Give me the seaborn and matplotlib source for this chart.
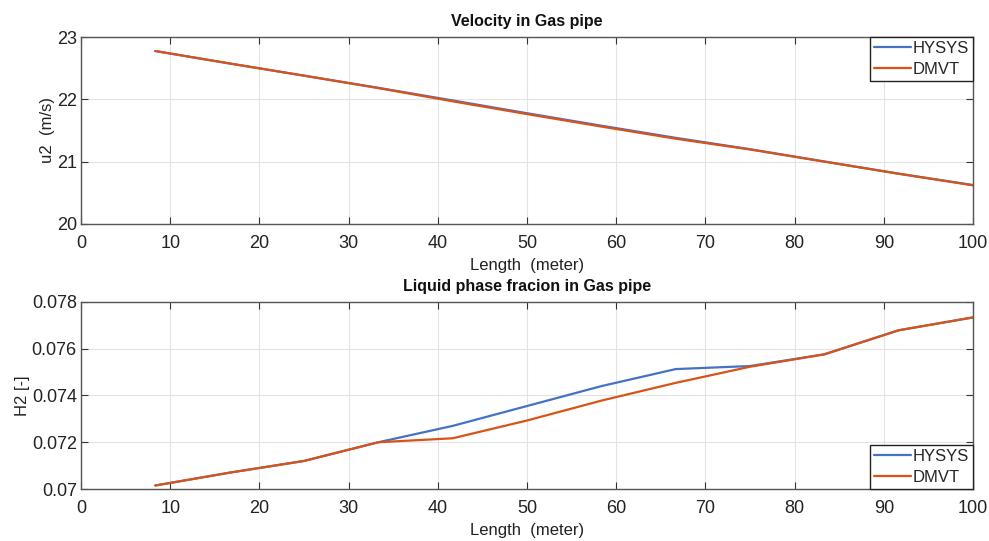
import matplotlib
matplotlib.use("Agg")
import matplotlib.pyplot as plt
import seaborn as sns
import pandas as pd

length_m = [8.33, 16.67, 25.0, 33.33, 41.67, 50.0, 58.33, 66.67, 75.0, 83.33, 91.67, 100.0]
u2_hysys = [22.775, 22.575, 22.38, 22.185, 21.982, 21.777, 21.577, 21.382, 21.20, 21.003, 20.808, 20.625]
u2_dmvt = [22.775, 22.575, 22.38, 22.18, 21.968, 21.763, 21.563, 21.368, 21.195, 21.0, 20.805, 20.62]
h2_hysys = [0.07015, 0.0707, 0.0712, 0.0720, 0.0727, 0.07355, 0.0744, 0.07513, 0.07526, 0.07576, 0.07679, 0.07734]
h2_dmvt = [0.07015, 0.0707, 0.0712, 0.0720, 0.07217, 0.07293, 0.07378, 0.07454, 0.07523, 0.07576, 0.07679, 0.07734]
series_names = ["HYSYS", "DMVT"]
x_ticks = [0, 10, 20, 30, 40, 50, 60, 70, 80, 90, 100]
u2_ticks = [20, 21, 22, 23]
h2_ticks = [0.07, 0.072, 0.074, 0.076, 0.078]
h2_tick_labels = ["0.07", "0.072", "0.074", "0.076", "0.078"]

sns.set_theme(style="whitegrid")
plt.rcParams['font.family'] = ['Liberation Sans', 'DejaVu Sans']

palette = {"HYSYS": "#4472C4", "DMVT": "#D95319"}

df_u = pd.concat([
    pd.DataFrame({"Length": length_m, "value": u2_hysys, "series": "HYSYS"}),
    pd.DataFrame({"Length": length_m, "value": u2_dmvt, "series": "DMVT"}),
])
df_h = pd.concat([
    pd.DataFrame({"Length": length_m, "value": h2_hysys, "series": "HYSYS"}),
    pd.DataFrame({"Length": length_m, "value": h2_dmvt, "series": "DMVT"}),
])

fig = plt.figure(figsize=(9.89, 5.41), dpi=100)
ax1 = fig.add_axes([0.0819, 0.586, 0.9019, 0.3456])
ax2 = fig.add_axes([0.0819, 0.0961, 0.9019, 0.3457])

def style(ax, title, ylabel, loc):
    ax.set_facecolor("white")
    ax.grid(True, color="#e3e3e3", linewidth=0.8)
    for s in ax.spines.values():
        s.set_color("#555555")
        s.set_linewidth(1.0)
    ax.tick_params(direction="in", length=5, width=0.8, colors="#333333",
                   labelsize=13, top=True, right=True, bottom=True, left=True,
                   labelcolor="#222222")
    ax.tick_params(axis="x", pad=8)
    ax.tick_params(axis="y", pad=3)
    ax.set_xlim(0, 100)
    ax.set_xticks(x_ticks)
    ax.set_xlabel("Length  (meter)", fontsize=12, color="#222222", labelpad=4)
    ax.set_ylabel(ylabel, fontsize=12, color="#222222", labelpad=1)
    ax.set_title(title, fontsize=11.5, fontweight="bold", color="#111111", pad=8)
    leg = ax.legend(loc=loc, fontsize=12, frameon=True, fancybox=False,
                    borderpad=0.25, handlelength=2.2, handletextpad=0.1,
                    labelspacing=0.35, borderaxespad=0.0)
    leg.get_frame().set_edgecolor("#222222")
    leg.get_frame().set_linewidth(1.0)
    leg.get_frame().set_alpha(1.0)

sns.lineplot(data=df_u, x="Length", y="value", hue="series", hue_order=series_names,
             palette=palette, ax=ax1, linewidth=1.6, sort=False)
ax1.set_ylim(20, 23)
ax1.set_yticks(u2_ticks)
style(ax1, "Velocity in Gas pipe", "u2  (m/s)", "upper right")

sns.lineplot(data=df_h, x="Length", y="value", hue="series", hue_order=series_names,
             palette=palette, ax=ax2, linewidth=1.6, sort=False)
ax2.set_ylim(0.07, 0.078)
ax2.set_yticks(h2_ticks)
ax2.set_yticklabels(h2_tick_labels)
style(ax2, "Liquid phase fracion in Gas pipe", "H2 [-]", "lower right")

fig.savefig("out.png", dpi=100)
